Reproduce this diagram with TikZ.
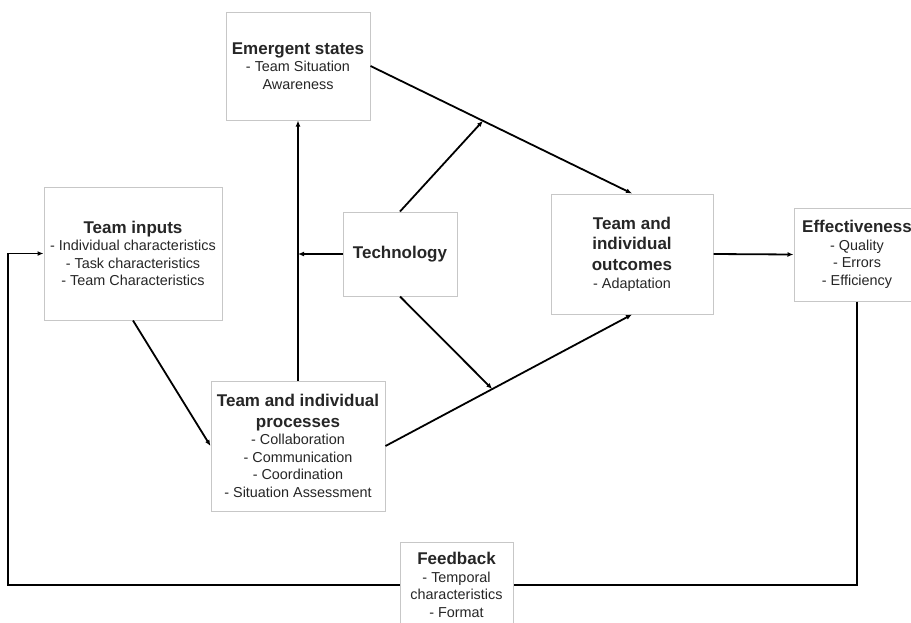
\documentclass[tikz,border=0pt]{standalone}
\usepackage{fontspec}
\setmainfont{Liberation Sans}
\usetikzlibrary{arrows.meta,calc}
\newcommand{\ttl}[1]{{\fontsize{17}{20.5}\selectfont\bfseries #1}}
\begin{document}
\begin{tikzpicture}[x=1pt,y=-1pt,
  box/.style={draw=black!22,line width=1pt,fill=white,align=center,inner sep=2pt,
    font=\fontsize{14.4}{17.6}\selectfont,text=black!85},
  conn/.style={line width=1.8pt,black},
  arr/.style={conn,-{Latex[length=6pt,width=5pt]}}]
\clip (0,0) rectangle (911,622);
\fill[white] (0,0) rectangle (911,622);
% boxes
\node[box,minimum width=144pt,minimum height=108pt] (em) at (298,66)
  {\ttl{Emergent states}\\ - Team Situation\\ Awareness};
\node[box,minimum width=178pt,minimum height=133pt] (inp) at (133,253.5)
  {\ttl{Team inputs}\\ - Individual characteristics\\ - Task characteristics\\ - Team Characteristics};
\node[box,minimum width=114pt,minimum height=84pt] (tech) at (400,254)
  {\ttl{Technology}};
\node[box,minimum width=162pt,minimum height=120pt] (out) at (632,254)
  {\ttl{Team and}\\[3pt] \ttl{individual}\\[3pt] \ttl{outcomes}\\ - Adaptation};
\node[box,minimum width=126pt,minimum height=93pt] (eff) at (857,254.5)
  {\ttl{Effectiveness}\\ - Quality\\ - Errors\\ - Efficiency};
\node[box,minimum width=174pt,minimum height=130pt] (proc) at (298,446)
  {\ttl{Team and individual}\\[3pt] \ttl{processes}\\ - Collaboration\\ - Communication\\ - Coordination\\ - Situation Assessment};
\node[box,minimum width=113pt,minimum height=86pt] (fb) at (456.5,585)
  {\ttl{Feedback}\\ - Temporal\\ characteristics\\ - Format};
% junction points
\coordinate (j1) at ($(em.east)!0.43!(out.north)$);
\coordinate (j2) at ($(proc.east)!0.433!(out.south)$);
\coordinate (j3) at (proc.north |- tech.west);
\coordinate (c1) at (eff.south |- fb.east);
\coordinate (c2) at (8,585);
\coordinate (c3) at (8,253.5);
% connectors
\draw[arr] (inp.south) -- (proc.west);
\draw[arr] (proc.north) -- (em.south);
\draw[arr] (tech.west) -- (j3);
\draw[arr] (em.east) -- (out.north);
\draw[arr] (tech.north) -- (j1);
\draw[arr] (proc.east) -- (out.south);
\draw[arr] (tech.south) -- (j2);
\draw[arr] (out.east) -- (eff.west);
\draw[conn] (eff.south) -- (c1) -- (fb.east);
\draw[arr] (fb.west) -- (c2) -- (c3) -- (inp.west);
\end{tikzpicture}
\end{document}
